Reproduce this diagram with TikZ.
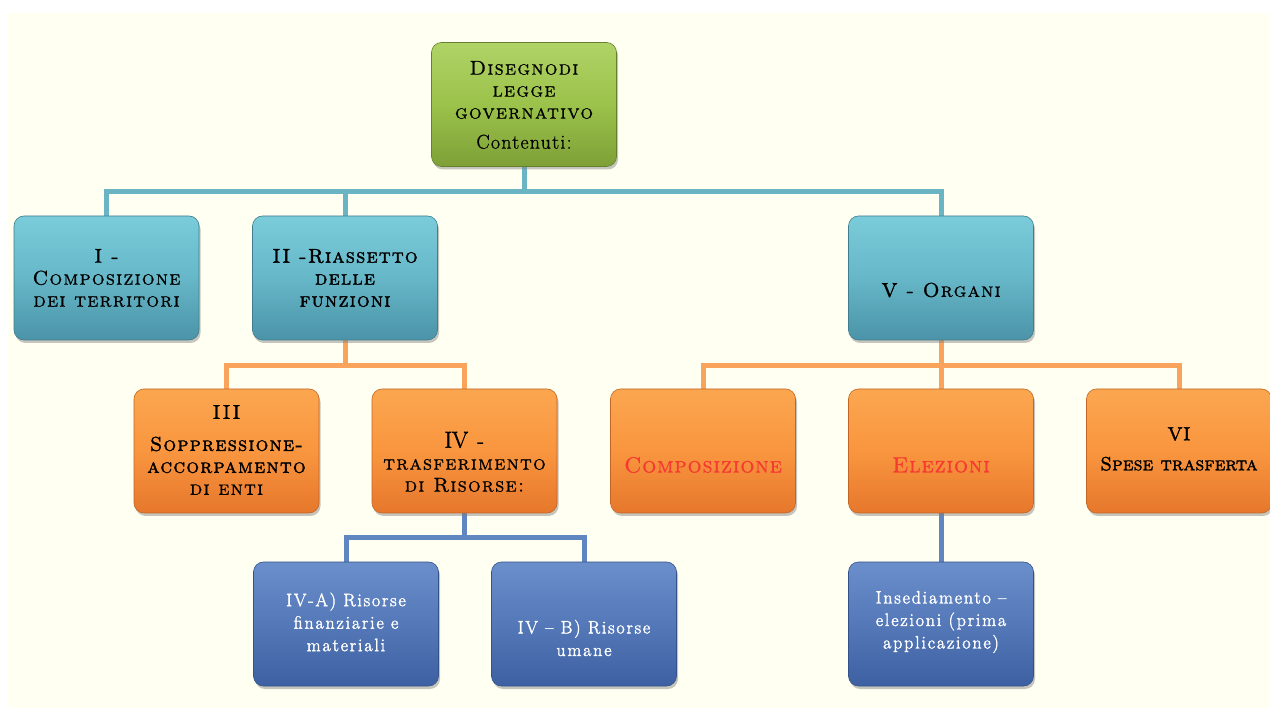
\documentclass[tikz,border=0pt]{standalone}
\usepackage{fontspec}
\setmainfont{Latin Modern Roman}
\newfontfamily\scfont{Latin Modern Roman Caps}
\usetikzlibrary{shadows,backgrounds}
\definecolor{cream}{HTML}{FFFFF2}
\definecolor{gTop}{HTML}{B0D366}
\definecolor{gMid}{HTML}{9BC24A}
\definecolor{gBot}{HTML}{7EA038}
\definecolor{tTop}{HTML}{7ACCDA}
\definecolor{tMid}{HTML}{66B7C8}
\definecolor{tBot}{HTML}{4B93A8}
\definecolor{oTop}{HTML}{FBA650}
\definecolor{oMid}{HTML}{F9963F}
\definecolor{oBot}{HTML}{E6772C}
\definecolor{bTop}{HTML}{6A8FCB}
\definecolor{bMid}{HTML}{5578B8}
\definecolor{bBot}{HTML}{3C60A2}
\definecolor{tLine}{HTML}{6AB4C4}
\definecolor{oLine}{HTML}{F9A35C}
\definecolor{bLine}{HTML}{5F86C0}
\definecolor{redtxt}{HTML}{F53A32}
\newcommand\fkb{\addfontfeature{FakeBold=1.8}}
\tikzset{
  box/.style={rounded corners=10pt, minimum width=185pt, minimum height=124pt, inner sep=0pt,
    drop shadow={shadow xshift=1.5pt, shadow yshift=-3pt, opacity=0.45}},
  greenbox/.style={box, top color=gTop, bottom color=gBot, middle color=gMid, draw=gBot!80!black, line width=0.6pt},
  tealbox/.style={box, top color=tTop, bottom color=tBot, middle color=tMid, draw=tBot!85!black, line width=0.6pt},
  orangebox/.style={box, top color=oTop, bottom color=oBot, middle color=oMid, draw=oBot!85!black, line width=0.6pt},
  bluebox/.style={box, top color=bTop, bottom color=bBot, middle color=bMid, draw=bBot!85!black, line width=0.6pt},
  sctext/.style={align=center, font=\scfont\fontsize{20}{22}\selectfont\addfontfeature{LetterSpace=6,FakeBold=0.8}, text=black},
  redsc/.style={align=center, font=\scfont\fontsize{22}{24}\selectfont\addfontfeature{LetterSpace=4,FakeBold=0.8}, text=redtxt},
  wtext/.style={align=center, font=\fontsize{18}{22.5}\selectfont\addfontfeature{LetterSpace=10,FakeBold=2}, text=white},
  tconn/.style={draw=tLine, line width=5pt, line join=miter},
  oconn/.style={draw=oLine, line width=5pt, line join=miter},
  bconn/.style={draw=bLine, line width=5pt, line join=miter},
}
\begin{document}
\begin{tikzpicture}[x=1pt,y=-1pt]
\useasboundingbox (0,0) rectangle (1270,708);

% boxes
\node[greenbox] (top) at (524,104.5) {};
\node[tealbox] (n1) at (106.5,278) {};
\node[tealbox] (n2) at (345,278) {};
\node[tealbox] (n5) at (941,278) {};
\node[orangebox] (n3) at (226.5,451) {};
\node[orangebox] (n4) at (464.5,451) {};
\node[orangebox] (nc) at (703,451) {};
\node[orangebox] (ne) at (941,451) {};
\node[orangebox] (n6) at (1179,451) {};
\node[bluebox] (na) at (346,624) {};
\node[bluebox] (nb) at (584,624) {};
\node[bluebox] (ni) at (941,624) {};

\coordinate (j0) at (524,192);
\coordinate (j1) at (345,366);
\coordinate (j2) at (941,366);
\coordinate (j3) at (464.5,538);

\begin{pgfonlayer}{background}
\fill[white] (0,0) rectangle (1270,708);
\fill[cream] (8,13) rectangle (1270,708);
\path[tconn] (n1.north) -- (n1.north |- j0) -- (n5.north |- j0) -- (n5.north);
\path[tconn] (top.south) -- (j0) (n2.north |- j0) -- (n2.north);
\path[oconn] (n3.north) -- (n3.north |- j1) -- (n4.north |- j1) -- (n4.north);
\path[oconn] (n2.south) -- (j1);
\path[oconn] (nc.north) -- (nc.north |- j2) -- (n6.north |- j2) -- (n6.north);
\path[oconn] (n5.south) -- (ne.north);
\path[bconn] (na.north) -- (na.north |- j3) -- (nb.north |- j3) -- (nb.north);
\path[bconn] (n4.south) -- (j3);
\path[bconn] (ne.south) -- (ni.north);
\end{pgfonlayer}

% texts
\node[sctext] (ttop) at (524,105) {Disegnodi\\legge\\governativo\\[8pt]\rmfamily\addfontfeature{LetterSpace=6,FakeBold=0.8} Contenuti:};
\node[sctext] (t1) at (106.5,278) {I -\\Composizione\\dei territori};
\node[sctext] (t2) at (345,278) {\fkb II -Riassetto\\\fkb delle\\\fkb funzioni};
\node[sctext] (t5) at (941,290) {{\fkb V} - Organi};
\node[sctext] (t3) at (226.5,450) {III\\[10pt]\fkb Soppressione-\\\fkb accorpamento\\di enti};
\node[sctext] (t4) at (464.5,462) {{\rmfamily\fkb\fontsize{23}{22}\selectfont IV} -\\trasferimento\\di Risorse:};
\node[redsc] (tc) at (703,465) {Composizione};
\node[redsc] (te) at (941,465) {Elezioni};
\node[sctext, font=\scfont\fontsize{19}{22}\selectfont\addfontfeature{LetterSpace=1}] (t6) at (1179,449) {\fkb VI\\[8pt]\fkb Spese trasferta};
\node[wtext] (ta) at (346,622) {IV-A) Risorse\\finanziarie e\\materiali};
\node[wtext] (tb) at (584,638) {IV -- B) Risorse\\umane};
\node[wtext] (ti) at (941,622) {Insediamento --\\elezioni (prima\\applicazione)};
\end{tikzpicture}
\end{document}
